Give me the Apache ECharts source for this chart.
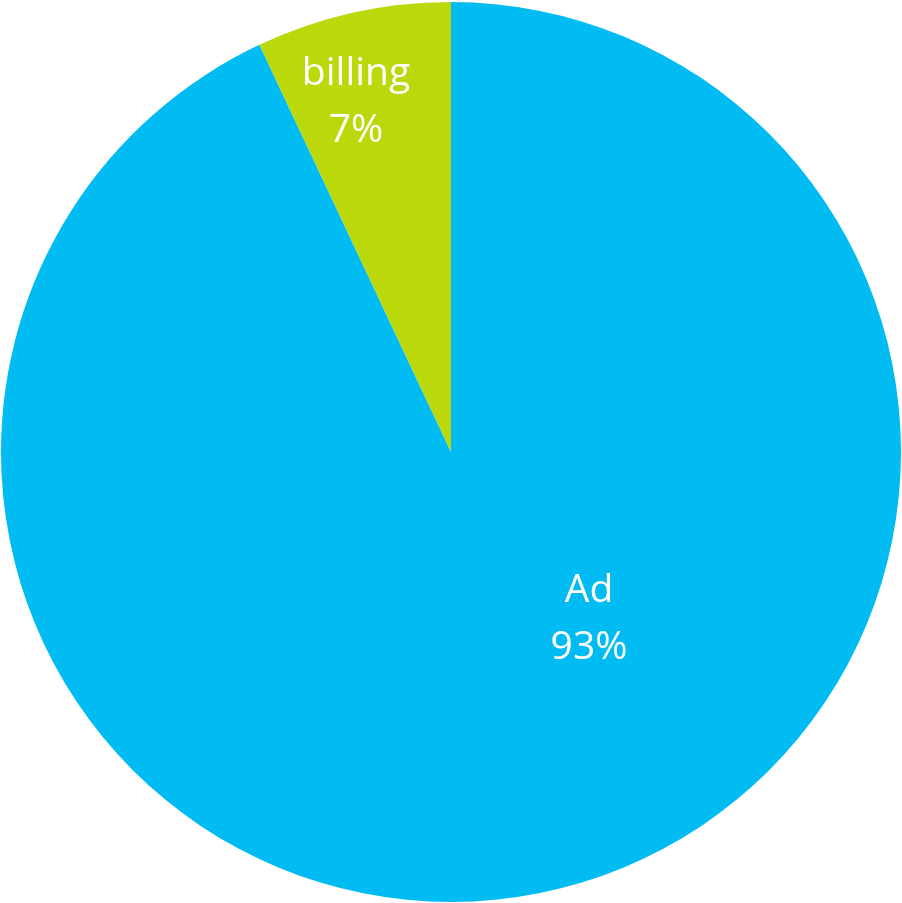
<!DOCTYPE html>
<html>
<head>
<meta charset="utf-8">
<script src="https://cdn.jsdelivr.net/npm/echarts@6/dist/echarts.min.js"></script>
<style>
  html, body { margin: 0; padding: 0; background: #fff; }
  #chart { width: 902px; height: 903px; }
</style>
</head>
<body>
<div id="chart"></div>
<script>
// Share of items by category
const categories = ['Ad', 'billing'];
const values = [93, 7];
const colors = ['#00BCF2', '#BAD80A'];

// Where each slice's label block is centred, in page pixels
const labelAnchors = [[589, 619], [356, 102]];

const chart = echarts.init(document.getElementById('chart'), null, { renderer: 'canvas' });

chart.setOption({
  animation: false,
  series: [{
    type: 'pie',
    center: [451, 452],
    radius: [0, 450],
    startAngle: 90,
    clockwise: true,
    silent: true,
    data: categories.map((name, i) => ({
      name: name,
      value: values[i],
      itemStyle: { color: colors[i] }
    })),
    itemStyle: { borderWidth: 0 },
    label: {
      show: true,
      position: 'inside',
      formatter: p => p.name + '\n' + Math.round(p.percent) + '%',
      color: '#ffffff',
      fontFamily: 'Open Sans',
      fontSize: 39,
      lineHeight: 57,
      align: 'center',
      verticalAlign: 'middle'
    },
    labelLine: { show: false },
    labelLayout: function (params) {
      const a = labelAnchors[params.dataIndex];
      return { x: a[0], y: a[1], align: 'center', verticalAlign: 'middle' };
    }
  }]
});
</script>
</body>
</html>
